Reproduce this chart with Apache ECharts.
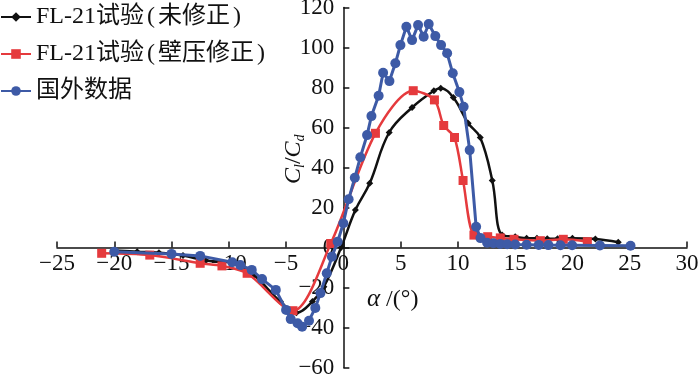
<!DOCTYPE html>
<html>
<head>
<meta charset="utf-8">
<script src="https://cdn.jsdelivr.net/npm/echarts@6/dist/echarts.min.js"></script>
<style>
  html, body { margin: 0; padding: 0; background: #fff; }
  #chart { width: 700px; height: 376px; }
</style>
</head>
<body>
<div id="chart"></div>
<script>
// FL-21 未修正 (black)
const blackX = [-20, -18, -16.1, -14, -12, -9.3, -7.8, -5.5, -4.1, -2.7, -1.7, -0.2, 1.05, 2.3, 4.0, 6.0, 7.9, 8.5, 9.6, 10.9, 11.95, 13.0, 13.86, 15, 16, 16.9, 17.8, 18.7, 20, 22, 24];
const blackY = [-1.5, -2.1, -2.6, -4, -6.5, -8, -13.75, -27, -32.6, -27, -19.6, 0, 18.75, 32.1, 57.5, 70, 78.4, 79.6, 75, 62.1, 55, 33.5, 6.2, 5.4, 4.6, 4.6, 4.4, 4.4, 4.6, 4.2, 2.6];
// FL-21 壁压修正 (red)
const redX = [-21.1, -16.9, -12.5, -10.6, -8.4, -4.4, -1.1, 2.8, 6.1, 7.95, 8.76, 9.7, 10.45, 11.4, 12.6, 13.7, 14.9, 17.2, 19.2, 21.3];
const redY = [-2.9, -3.8, -7.9, -9.2, -12.9, -31.6, 2, 57.1, 78.4, 73.8, 61, 55, 33.5, 6.2, 5.4, 4.8, 4.1, 3.4, 4.1, 2.9];
// 国外数据 (blue)
const blueX = [-20, -15, -12.5, -9.7, -9, -8, -7.1, -5.9, -5, -4.6, -4, -3.6, -3, -2.45, -2, -1.45, -1, -0.5, 0, 0.46, 1, 1.48, 2.07, 2.45, 3.08, 3.47, 4.02, 4.54, 4.98, 5.5, 6.0, 6.52, 7.01, 7.45, 8.03, 8.53, 9.06, 9.55, 10.13, 10.5, 11.03, 11.59, 11.97, 12.55, 13.1, 13.7, 14.3, 15, 16, 17.06, 17.9, 18.95, 19.97, 22.4, 25.07];
const blueY = [-2.1, -3.2, -4.2, -7.4, -8.8, -11.2, -15.8, -21.2, -31.2, -35.8, -37.9, -39.6, -36.6, -30.2, -22.8, -12.9, -4.6, 2.9, 12.1, 24.1, 34.9, 45.1, 56.2, 65.7, 75.9, 87.4, 83.2, 92.1, 101.2, 110.4, 103.7, 111.2, 105.4, 111.7, 105.7, 101.2, 97.1, 87.1, 77.7, 70.4, 48.7, 10.4, 4.7, 2.4, 2.1, 1.8, 1.6, 1.5, 1.4, 1.3, 1.2, 1.1, 1.1, 1.0, 0.9];

const seriesNames = ['FL-21试验(未修正)', 'FL-21试验(壁压修正)', '国外数据'];
const xTicks = { min: -25, max: 30, interval: 5 };
const yTicks = { min: -60, max: 120, interval: 20 };

const serif = "'Liberation Serif', 'Times New Roman', 'Noto Sans CJK SC', serif";
const pair = (xs, ys) => xs.map((x, i) => [x, ys[i]]);
const minus = v => String(v).replace('-', '\u2212');

// plot box; axes cross at (0, 0)
const box = { left: 57, right: 13, top: 7.5, bottom: 8.5 };
const plotW = 700 - box.left - box.right;
const plotH = 376 - box.top - box.bottom;
const yAxisShift = -plotW * (0 - xTicks.min) / (xTicks.max - xTicks.min);
const xAxisShift = -plotH * (0 - yTicks.min) / (yTicks.max - yTicks.min);

const chart = echarts.init(document.getElementById('chart'));

chart.setOption({
  backgroundColor: '#fff',
  animation: false,
  grid: Object.assign({ containLabel: false, outerBoundsMode: 'none' }, box),
  legend: {
    orient: 'vertical',
    left: 0,
    top: 5,
    padding: 0,
    itemWidth: 30,
    itemHeight: 12,
    itemGap: 13,
    textStyle: {
      fontFamily: serif, fontSize: 24, color: '#111',
      rich: { p: { fontFamily: serif, fontSize: 24, color: '#111', padding: [0, 3, 0, 3] } }
    },
    formatter: name => name.replace('(', '{p|(}').replace(')', '{p|)}'),
    data: seriesNames
  },
  xAxis: {
    type: 'value',
    position: 'bottom',
    offset: xAxisShift,
    min: xTicks.min, max: xTicks.max, interval: xTicks.interval,
    axisLine: { onZero: false, lineStyle: { color: '#111', width: 1.5 } },
    axisTick: { inside: true, length: 6, lineStyle: { color: '#111', width: 1.5 } },
    axisLabel: { fontFamily: serif, fontSize: 23, color: '#111', margin: 5, formatter: minus },
    splitLine: { show: false }
  },
  yAxis: {
    type: 'value',
    position: 'left',
    offset: yAxisShift,
    min: yTicks.min, max: yTicks.max, interval: yTicks.interval,
    axisLine: { onZero: false, lineStyle: { color: '#111', width: 1.5 } },
    axisTick: { inside: true, length: 6, lineStyle: { color: '#111', width: 1.5 } },
    axisLabel: { fontFamily: serif, fontSize: 23, color: '#111', margin: 9, formatter: minus },
    splitLine: { show: false }
  },
  graphic: [
    {
      type: 'text',
      x: 281, y: 184,
      rotation: Math.PI / 2,
      style: {
        text: '{i|C}{s|l}{n|/}{i|C}{s|d}',
        rich: {
          i: { fontFamily: serif, fontStyle: 'italic', fontSize: 24, fill: '#111' },
          n: { fontFamily: serif, fontSize: 24, fill: '#111' },
          s: { fontFamily: serif, fontStyle: 'italic', fontSize: 14, fill: '#111', verticalAlign: 'bottom', padding: [12, 0, 0, 0] }
        }
      }
    },
    {
      type: 'text',
      x: 367, y: 287,
      style: {
        text: '{i|α} /(°)',
        font: '24px ' + serif,
        rich: {
          i: { fontFamily: serif, fontStyle: 'italic', fontSize: 25, fill: '#111' }
        },
        fill: '#111'
      }
    }
  ],
  series: [
    {
      name: seriesNames[0],
      type: 'line',
      data: pair(blackX, blackY),
      smooth: 0.4,
      symbol: 'diamond',
      symbolSize: 7,
      z: 3,
      lineStyle: { color: '#111', width: 2.5 },
      itemStyle: { color: '#111' }
    },
    {
      name: seriesNames[1],
      type: 'line',
      data: pair(redX, redY),
      smooth: 0.3,
      symbol: 'rect',
      symbolSize: 9,
      z: 4,
      lineStyle: { color: '#e53a3d', width: 2.5 },
      itemStyle: { color: '#e53a3d' }
    },
    {
      name: seriesNames[2],
      type: 'line',
      data: pair(blueX, blueY),
      symbol: 'circle',
      symbolSize: 10,
      z: 5,
      lineStyle: { color: '#3d5aa6', width: 3 },
      itemStyle: { color: '#3d5aa6' }
    }
  ]
});
</script>
</body>
</html>
